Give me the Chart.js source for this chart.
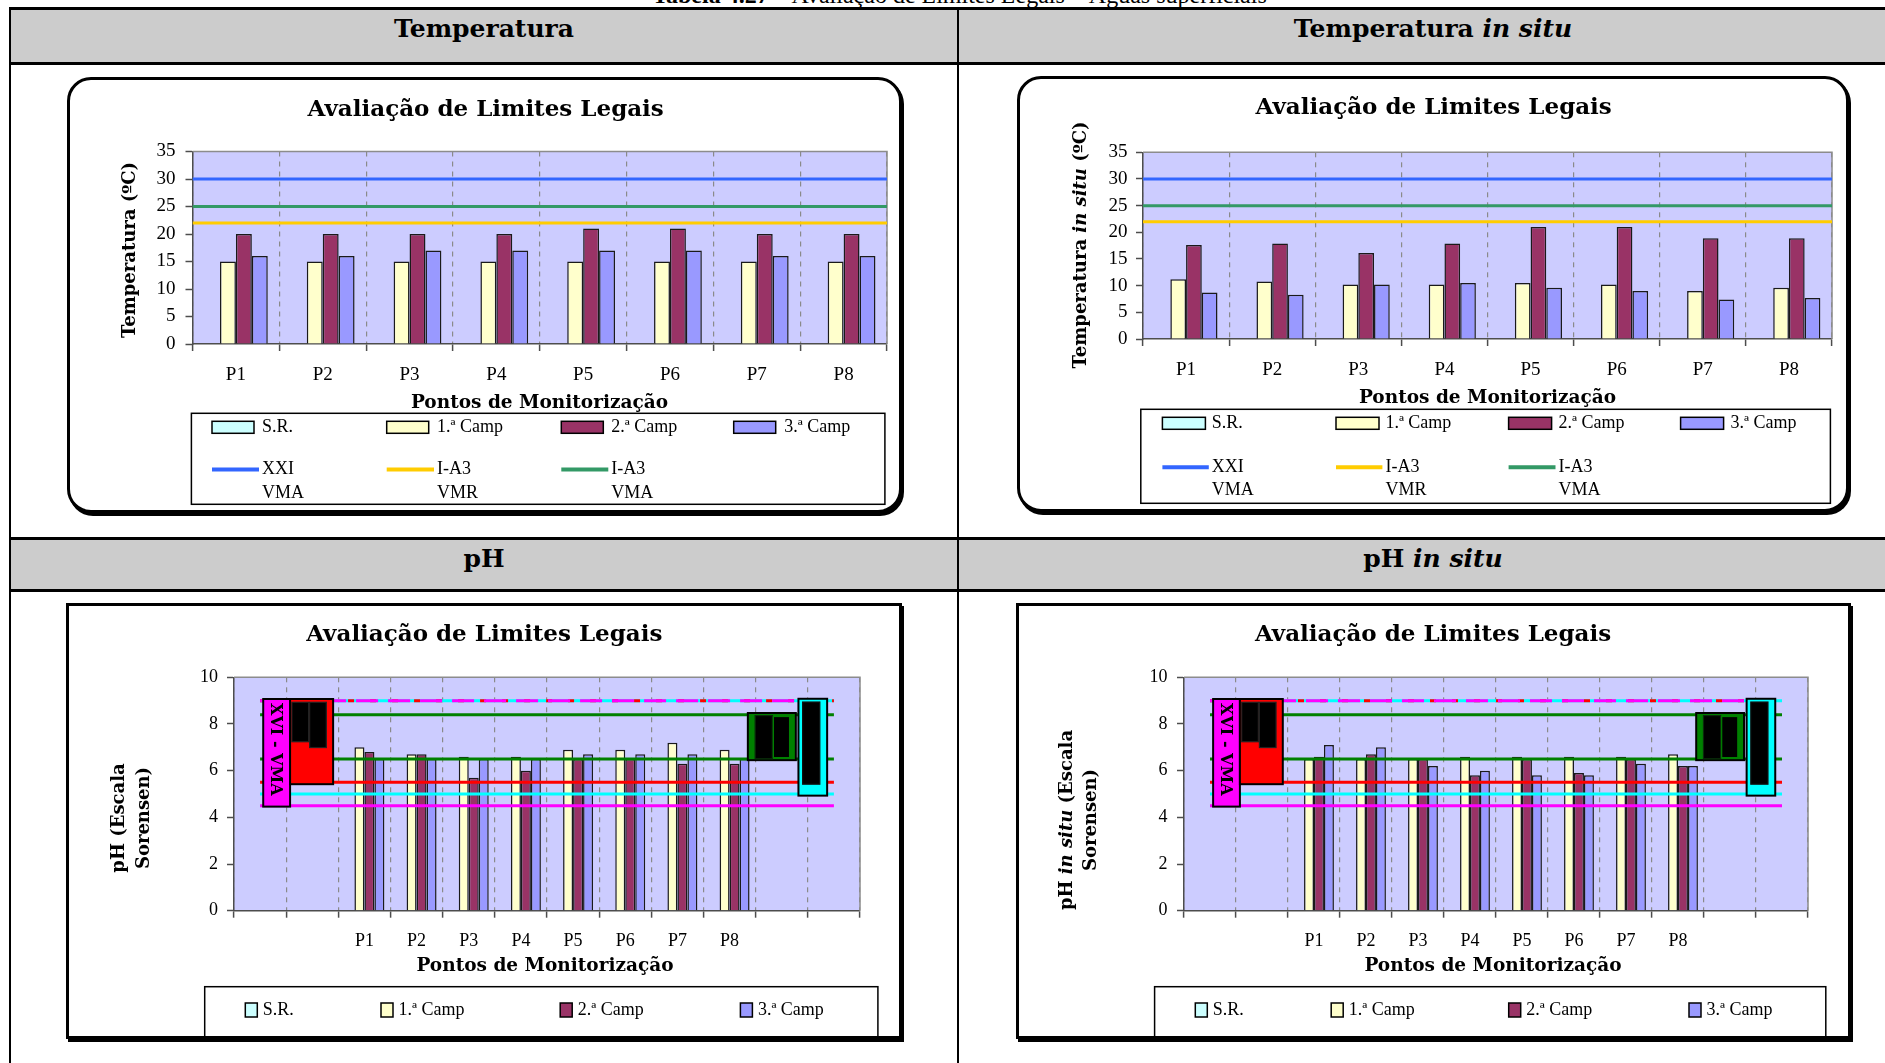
<!DOCTYPE html>
<html lang="pt">
<head>
<meta charset="utf-8">
<title>Avaliação de Limites Legais – Águas superficiais</title>
<script src="https://cdn.jsdelivr.net/npm/chart.js@4.4.1/dist/chart.umd.min.js"></script>
<style>
  html, body { margin: 0; padding: 0; background: #fff; }
  body { position: relative; width: 1885px; height: 1063px; overflow: hidden; }
  .rule { position: absolute; background: #000; }
  .band { position: absolute; background: #cccccc; }
  .head { position: absolute; width: 700px; text-align: center; font: bold 25px/25px "DejaVu Serif", serif; color: #000; white-space: nowrap; }
  .head i { font-style: italic; }
  .frame { position: absolute; box-sizing: border-box; border: 3px solid #000; background: #fff; box-shadow: 2px 3px 0 #000; }
  .rounded { border-radius: 24px; }
  canvas { position: absolute; }
  #caption { position: absolute; left: 0; width: 1919px; top: -17px; text-align: center; font: 24px/24px "Liberation Serif", serif; white-space: nowrap; color: #000; }
</style>
</head>
<body>
<div id="caption"><b>Tabela 4.27</b> – Avaliação de Limites Legais – Águas superficiais</div>

<!-- table grid -->
<div class="band" style="left:11px;top:10px;width:1874px;height:52px"></div>
<div class="band" style="left:11px;top:540px;width:1874px;height:49px"></div>
<div class="rule" style="left:9px;top:7px;width:1876px;height:3px"></div>
<div class="rule" style="left:9px;top:62px;width:1876px;height:3px"></div>
<div class="rule" style="left:9px;top:537px;width:1876px;height:3px"></div>
<div class="rule" style="left:9px;top:589px;width:1876px;height:3px"></div>
<div class="rule" style="left:9px;top:7px;width:2px;height:1056px"></div>
<div class="rule" style="left:957px;top:7px;width:2px;height:1056px"></div>
<div class="head" style="left:134px;top:16px">Temperatura</div>
<div class="head" style="left:1083px;top:16px">Temperatura <i>in situ</i></div>
<div class="head" style="left:134px;top:546px">pH</div>
<div class="head" style="left:1083px;top:546px">pH <i>in situ</i></div>

<!-- chart frames -->
<div class="frame rounded" style="left:67px;top:77px;width:835px;height:436px"></div>
<div class="frame rounded" style="left:1017px;top:76px;width:832px;height:436px"></div>
<div class="frame" style="left:66px;top:603px;width:836px;height:436px"></div>
<div class="frame" style="left:1016px;top:603px;width:835px;height:436px"></div>

<!-- each panel: campaign bars below, legal-limit overlay above -->
<canvas id="tempChart"></canvas>
<canvas id="tempChartLimits"></canvas>
<canvas id="tempInSituChart"></canvas>
<canvas id="tempInSituChartLimits"></canvas>
<canvas id="phChart"></canvas>
<canvas id="phChartLimits"></canvas>
<canvas id="phInSituChart"></canvas>
<canvas id="phInSituChartLimits"></canvas>

<script>
// ---------- data ----------
const monitoringPoints = ['P1', 'P2', 'P3', 'P4', 'P5', 'P6', 'P7', 'P8'];
const phCategories = ['', '', 'P1', 'P2', 'P3', 'P4', 'P5', 'P6', 'P7', 'P8', '', ''];
const campaignNames = ['S.R.', '1.ª Camp', '2.ª Camp', '3.ª Camp'];

// Temperatura (ºC)
const tempSR = [null, null, null, null, null, null, null, null];
const temp1 = [15, 15, 15, 15, 15, 15, 15, 15];
const temp2 = [20, 20, 20, 20, 21, 21, 20, 20];
const temp3 = [16, 16, 17, 17, 17, 17, 16, 16];

// Temperatura in situ (ºC)
const tempInSituSR = [null, null, null, null, null, null, null, null];
const tempInSitu1 = [11.2, 10.8, 10.2, 10.2, 10.5, 10.2, 9.0, 9.6];
const tempInSitu2 = [17.6, 17.9, 16.1, 17.9, 21.0, 21.0, 18.9, 18.9];
const tempInSitu3 = [8.7, 8.3, 10.2, 10.5, 9.6, 9.0, 7.4, 7.7];

// temperature legal limits
const tempLimitNames = ['XXI VMA', 'I-A3 VMR', 'I-A3 VMA'];
const tempLimitValues = [30, 22, 25];

// pH (Escala Sorensen)
const phSR = [null, null, null, null, null, null, null, null, null, null, null, null];
const ph1 = [null, null, 7.0, 6.7, 6.6, 6.6, 6.9, 6.9, 7.2, 6.9, null, null];
const ph2 = [null, null, 6.8, 6.7, 5.7, 6.0, 6.5, 6.5, 6.3, 6.3, null, null];
const ph3 = [null, null, 6.5, 6.5, 6.5, 6.5, 6.7, 6.7, 6.7, 6.5, null, null];

// pH in situ
const phInSituSR = [null, null, null, null, null, null, null, null, null, null, null, null];
const phInSitu1 = [null, null, 6.5, 6.5, 6.5, 6.6, 6.6, 6.6, 6.6, 6.7, null, null];
const phInSitu2 = [null, null, 6.6, 6.7, 6.5, 5.8, 6.5, 5.9, 6.5, 6.2, null, null];
const phInSitu3 = [null, null, 7.1, 7.0, 6.2, 6.0, 5.8, 5.8, 6.3, 6.2, null, null];

// pH limit levels (minimum / maximum of each annex)
const phLimitLevels = [4.5, 5.0, 5.5, 6.5, 8.4, 9, 9, 9];

// pH limit-range boxes: [from category, to category, low pH, high pH]
const phRangeBoxes = [
  [0.06, 0.575, 4.46, 9.07],
  [0.575, 1.40, 5.42, 9.07],
  [0.61, 0.93, 7.24, 8.93],
  [0.95, 1.27, 6.99, 8.93],
  [9.35, 10.27, 6.45, 8.47],
  [9.49, 9.82, 6.51, 8.36],
  [9.84, 10.15, 6.56, 8.32],
  [10.32, 10.87, 4.93, 9.08],
  [10.40, 10.73, 5.42, 8.94]
];
const phRangeLabel = 'XVI - VMA';

// ---------- styles ----------
const PLOT_BG = '#CCCCFF';
const campaignColors = ['#CCFFFF', '#FFFFCC', '#993366', '#9999FF'];
const tempLimitColors = ['#3366FF', '#FFCC00', '#339966'];
const phLimitColors = ['#FF00FF', '#00FFFF', '#FF0000', '#008000', '#008000', '#00FFFF', '#FF0000', '#FF00FF'];
const phLimitDashes = [[], [], [], [], [], [], [6, 16], [22, 10]];
const phLimitOrder = [5, 5, 5, 5, 5, 4, 3, 2];
const phRangeFills = ['#FF00FF', '#FF0000', '#000000', '#000000', '#008000', '#000000', '#000000', '#00FFFF', '#000000'];
const phRangeEdges = ['#000000', '#000000', '#222222', '#222222', '#000000', '#0a2a0a', '#008000', '#000000', '#111111'];

const BOLD_FACE = '"DejaVu Serif", serif';
const TICK_FACE = '"Liberation Serif", "Times New Roman", serif';
const X_AXIS_H = 40;

// page-coordinate layout of each panel
const layouts = {
  tempChart: {
    canvas: [70, 80, 829, 430], area: [192.5, 151.5, 887, 344],
    tickSize: 19, xPad: 13, yPad: 10,
    title: [485.7, 110], xTitle: [539.5, 403],
    yTitle: [{ at: [130.5, 250], parts: [['Temperatura (ºC)', 'b']] }],
    legend: { box: [191.4, 413.3, 693.5, 91], swatch: [42, 12], swatchX: [212, 386.7, 561.3, 733.7],
              textX: [262, 437, 611.3, 784.3], rowY: [427.3, 469.5], lineGap: 24 }
  },
  tempInSituChart: {
    canvas: [1020, 79, 826, 430], area: [1143, 152.3, 1832, 339],
    tickSize: 19, xPad: 12.6, yPad: 8.5,
    title: [1433.7, 108.3], xTitle: [1487.5, 397.7],
    yTitle: [{ at: [1081.4, 245], parts: [['Temperatura ', 'b'], ['in situ', 'bi'], [' (ºC)', 'b']] }],
    legend: { box: [1140.8, 409.3, 689.6, 94], swatch: [43, 12], swatchX: [1162.4, 1336, 1508.6, 1680.6],
              textX: [1211.8, 1385.4, 1558.5, 1730.5], rowY: [423.3, 467.3], lineGap: 23 }
  },
  phChart: {
    canvas: [69, 606, 830, 430], area: [234, 677.3, 860, 910.7],
    tickSize: 18, xPad: 13, yPad: 9,
    title: [484.3, 635], xTitle: [545, 966],
    yTitle: [{ at: [119.5, 818], parts: [['pH (Escala', 'b']] },
             { at: [144.5, 818], parts: [['Sorensen)', 'b']] }],
    legend: { box: [204.7, 986.7, 673.2, 70], swatch: [12, 14], swatchX: [245.3, 381, 560.2, 740.4],
              textX: [262.8, 398.5, 577.7, 757.9], rowY: [1010] },
    ranges: true
  },
  phInSituChart: {
    canvas: [1019, 606, 829, 430], area: [1184, 677.3, 1808, 910.7],
    tickSize: 18, xPad: 13, yPad: 9.5,
    title: [1433, 635], xTitle: [1493, 966],
    yTitle: [{ at: [1067.5, 820], parts: [['pH ', 'b'], ['in situ', 'bi'], [' (Escala', 'b']] },
             { at: [1091.6, 820], parts: [['Sorensen)', 'b']] }],
    legend: { box: [1154.6, 986.7, 671.2, 70], swatch: [12, 14], swatchX: [1195.3, 1331.2, 1508.7, 1689],
              textX: [1212.8, 1348.7, 1526.2, 1706.5], rowY: [1010] },
    ranges: true
  }
};

// ---------- drawing helpers ----------
function drawRich(ctx, parts, x, y, size, rotation) {
  ctx.save();
  ctx.translate(x, y);
  if (rotation) ctx.rotate(rotation);
  ctx.textBaseline = 'middle';
  ctx.textAlign = 'left';
  ctx.fillStyle = '#000';
  const fonts = parts.map(p => (p[1] === 'bi' ? 'italic bold ' : 'bold ') + size + 'px ' + BOLD_FACE);
  let total = 0;
  parts.forEach((p, i) => { ctx.font = fonts[i]; total += ctx.measureText(p[0]).width; });
  let cx = -total / 2;
  parts.forEach((p, i) => { ctx.font = fonts[i]; ctx.fillText(p[0], cx, 0); cx += ctx.measureText(p[0]).width; });
  ctx.restore();
}

// legend lists the campaign bars of this chart and the limit lines of its overlay
function drawLegend(chart, L) {
  const ctx = chart.ctx;
  const ox = L.canvas[0], oy = L.canvas[1];
  const g = L.legend;
  ctx.save();
  ctx.strokeStyle = '#000';
  ctx.lineWidth = 1.5;
  ctx.strokeRect(g.box[0] - ox, g.box[1] - oy, g.box[2], g.box[3]);
  ctx.font = '18px ' + TICK_FACE;
  ctx.textBaseline = 'middle';
  ctx.textAlign = 'left';
  chart.data.datasets.forEach((ds, col) => {
    const sx = g.swatchX[col] - ox, y = g.rowY[0] - oy;
    ctx.fillStyle = ds.backgroundColor;
    ctx.fillRect(sx, y - g.swatch[1] / 2, g.swatch[0], g.swatch[1]);
    ctx.strokeStyle = '#000';
    ctx.lineWidth = 1.5;
    ctx.strokeRect(sx, y - g.swatch[1] / 2, g.swatch[0], g.swatch[1]);
    ctx.fillStyle = '#000';
    ctx.fillText(ds.label, g.textX[col] - ox, y);
  });
  (L.limitSets || []).filter(ds => ds.inLegend !== false).forEach((ds, col) => {
    const sx = g.swatchX[col] - ox, y = g.rowY[1] - oy;
    ctx.strokeStyle = ds.borderColor;
    ctx.lineWidth = 4;
    ctx.beginPath();
    ctx.moveTo(sx, y);
    ctx.lineTo(g.textX[col] - ox - 3, y);
    ctx.stroke();
    ctx.fillStyle = '#000';
    ds.label.split(' ').forEach((t, k) => ctx.fillText(t, g.textX[col] - ox, y + k * g.lineGap));
  });
  ctx.restore();
}

const panelDecor = {
  id: 'panelDecor',
  beforeDraw(chart) {
    const a = chart.chartArea, ctx = chart.ctx;
    ctx.save();
    ctx.fillStyle = PLOT_BG;
    ctx.fillRect(a.left, a.top, a.right - a.left, a.bottom - a.top);
    ctx.restore();
  },
  beforeDatasetsDraw(chart) {
    const a = chart.chartArea, ctx = chart.ctx;
    ctx.save();
    ctx.strokeStyle = '#8c8c8c';
    ctx.lineWidth = 1.5;
    ctx.beginPath();
    ctx.moveTo(a.left, a.top);
    ctx.lineTo(a.right, a.top);
    ctx.lineTo(a.right, a.bottom);
    ctx.stroke();
    ctx.restore();
  },
  afterDraw(chart) {
    const L = layouts[chart.canvas.id];
    const ctx = chart.ctx, ox = L.canvas[0], oy = L.canvas[1];
    drawRich(ctx, [['Avaliação de Limites Legais', 'b']], L.title[0] - ox, L.title[1] - oy, 23, 0);
    drawRich(ctx, [['Pontos de Monitorização', 'b']], L.xTitle[0] - ox, L.xTitle[1] - oy, 18.5, 0);
    L.yTitle.forEach(t => drawRich(ctx, t.parts, t.at[0] - ox, t.at[1] - oy, 18, -Math.PI / 2));
    drawLegend(chart, L);
  }
};

// range boxes of the pH annexes, drawn over the limit lines
const rangeDecor = {
  id: 'rangeDecor',
  afterDatasetsDraw(chart) {
    const L = layouts[chart.canvas.id.replace('Limits', '')];
    if (!L.ranges) return;
    const ctx = chart.ctx, xs = chart.scales.x, ys = chart.scales.y;
    ctx.save();
    phRangeBoxes.forEach((r, i) => {
      const x0 = xs.getPixelForValue(r[0]), x1 = xs.getPixelForValue(r[1]);
      const y0 = ys.getPixelForValue(r[3]), y1 = ys.getPixelForValue(r[2]);
      ctx.fillStyle = phRangeFills[i];
      ctx.fillRect(x0, y0, x1 - x0, y1 - y0);
      ctx.strokeStyle = phRangeEdges[i];
      ctx.lineWidth = i === 0 || i === 1 || i === 4 || i === 7 ? 2 : 1.2;
      ctx.strokeRect(x0, y0, x1 - x0, y1 - y0);
    });
    const b = phRangeBoxes[0];
    const cx = (xs.getPixelForValue(b[0]) + xs.getPixelForValue(b[1])) / 2;
    const top = ys.getPixelForValue(b[3]);
    ctx.translate(cx, top + 4);
    ctx.rotate(Math.PI / 2);
    ctx.font = 'bold 16px ' + BOLD_FACE;
    ctx.fillStyle = '#000';
    ctx.textAlign = 'left';
    ctx.textBaseline = 'middle';
    ctx.fillText(phRangeLabel, 0, 1);
    ctx.restore();
  }
};

// ---------- chart builders ----------
function campaignBars(series, groupShare) {
  return series.map((values, i) => ({
    label: campaignNames[i], data: values,
    backgroundColor: campaignColors[i], borderColor: '#1a1a1a', borderWidth: 1.5,
    categoryPercentage: groupShare, barPercentage: 1.0
  }));
}

function tempLimitLines(count) {
  return tempLimitValues.map((v, i) => ({
    label: tempLimitNames[i],
    data: [{ x: -0.5, y: v }, { x: count - 0.5, y: v }],
    borderColor: tempLimitColors[i], borderWidth: 3, pointRadius: 0, order: 1
  }));
}

function phLimitLines(count) {
  return phLimitLevels.map((v, i) => ({
    label: 'limite', inLegend: false,
    data: [{ x: 0, y: v }, { x: count - 1, y: v }],
    borderColor: phLimitColors[i], borderWidth: 3, borderDash: phLimitDashes[i],
    pointRadius: 0, order: phLimitOrder[i]
  }));
}

function placeCanvas(cv, L) {
  const [cx, cy, cw, ch] = L.canvas;
  cv.width = cw; cv.height = ch;
  cv.style.left = cx + 'px'; cv.style.top = cy + 'px';
  cv.style.width = cw + 'px'; cv.style.height = ch + 'px';
}

function padding(L) {
  const [cx, cy, cw, ch] = L.canvas;
  return { left: 0, top: L.area[1] - cy, right: cx + cw - L.area[2], bottom: cy + ch - L.area[3] - X_AXIS_H };
}

function buildPanel(id, labels, bars, limits, yMax, yStep) {
  const L = layouts[id];
  L.limitSets = limits;
  const yAxisW = L.area[0] - L.canvas[0];

  const cv = document.getElementById(id);
  placeCanvas(cv, L);
  new Chart(cv, {
    type: 'bar',
    data: { labels, datasets: bars },
    options: {
      responsive: false, animation: false, devicePixelRatio: 1,
      layout: { padding: padding(L) },
      plugins: { legend: { display: false }, tooltip: { enabled: false }, title: { display: false } },
      scales: {
        x: {
          type: 'category', offset: true,
          grid: { display: true, drawOnChartArea: true, offset: true, color: '#8a8a8a', lineWidth: 1.2,
                  tickColor: '#4d4d4d', tickLength: 7, tickWidth: 1.5 },
          border: { display: true, color: '#4d4d4d', width: 1.5, dash: [5, 5] },
          ticks: { font: { family: TICK_FACE, size: L.tickSize }, color: '#000', padding: L.xPad, maxRotation: 0, autoSkip: false },
          afterFit(s) { s.height = X_AXIS_H; }
        },
        y: {
          min: 0, max: yMax,
          ticks: { stepSize: yStep, font: { family: TICK_FACE, size: L.tickSize }, color: '#000', padding: L.yPad },
          grid: { display: true, drawOnChartArea: false, color: '#4d4d4d', tickColor: '#4d4d4d', tickLength: 7, tickWidth: 1.5 },
          border: { display: true, color: '#4d4d4d', width: 1.5 },
          afterFit(s) { s.width = yAxisW; }
        }
      }
    },
    plugins: [panelDecor]
  });

  // limit overlay: same plot area, category index units on a linear x axis
  const lv = document.getElementById(id + 'Limits');
  placeCanvas(lv, L);
  new Chart(lv, {
    type: 'line',
    data: { datasets: limits },
    options: {
      responsive: false, animation: false, devicePixelRatio: 1,
      layout: { padding: padding(L) },
      plugins: { legend: { display: false }, tooltip: { enabled: false }, title: { display: false } },
      scales: {
        x: {
          type: 'linear', min: -0.5, max: labels.length - 0.5, offset: false,
          ticks: { display: false }, grid: { display: false }, border: { display: false },
          afterFit(s) { s.height = X_AXIS_H; }
        },
        y: {
          type: 'linear', min: 0, max: yMax,
          ticks: { display: false }, grid: { display: false }, border: { display: false },
          afterFit(s) { s.width = yAxisW; }
        }
      }
    },
    plugins: [rangeDecor]
  });
}

buildPanel('tempChart', monitoringPoints,
  campaignBars([tempSR, temp1, temp2, temp3], 0.734), tempLimitLines(monitoringPoints.length), 35, 5);
buildPanel('tempInSituChart', monitoringPoints,
  campaignBars([tempInSituSR, tempInSitu1, tempInSitu2, tempInSitu3], 0.73), tempLimitLines(monitoringPoints.length), 35, 5);
buildPanel('phChart', phCategories,
  campaignBars([phSR, ph1, ph2, ph3], 0.766), phLimitLines(phCategories.length), 10, 2);
buildPanel('phInSituChart', phCategories,
  campaignBars([phInSituSR, phInSitu1, phInSitu2, phInSitu3], 0.766), phLimitLines(phCategories.length), 10, 2);
</script>
</body>
</html>
